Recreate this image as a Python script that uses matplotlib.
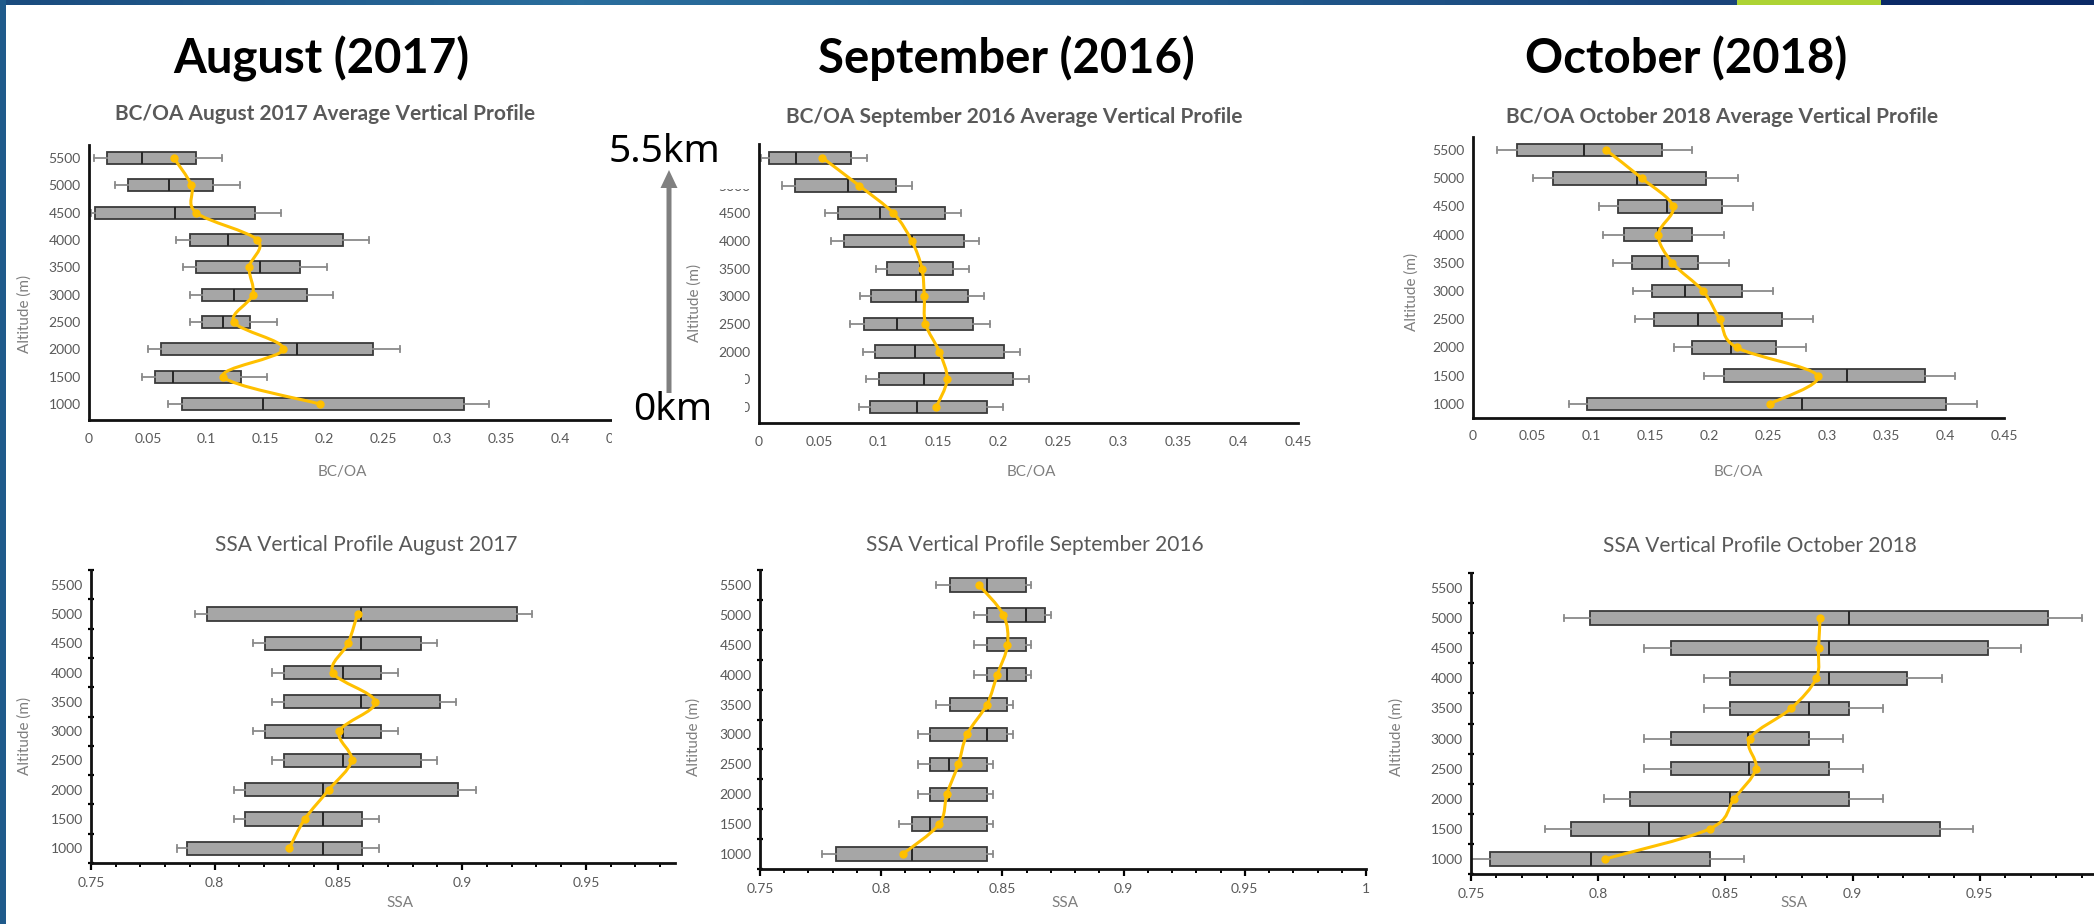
import matplotlib

matplotlib.use("Agg")
import matplotlib.pyplot as plt
import numpy as np
from matplotlib.path import Path
from matplotlib.patches import PathPatch, Rectangle, FancyArrow
from matplotlib.colors import LinearSegmentedColormap

W, H = 2094, 924
plt.rcParams["font.family"] = ["Lato", "DejaVu Sans"]

ALT = [1000, 1500, 2000, 2500, 3000, 3500, 4000, 4500, 5000, 5500]

# --- BC/OA, rows 1000 -> 5500 m ---
aug_bc_wlo = [0.067, 0.045, 0.050, 0.086, 0.086, 0.080, 0.074, 0.002, 0.022, 0.004]
aug_bc_q1 = [0.079, 0.056, 0.061, 0.096, 0.096, 0.091, 0.086, 0.005, 0.033, 0.015]
aug_bc_med = [0.148, 0.071, 0.177, 0.114, 0.123, 0.145, 0.118, 0.073, 0.068, 0.045]
aug_bc_q3 = [0.318, 0.129, 0.241, 0.137, 0.185, 0.179, 0.216, 0.141, 0.105, 0.091]
aug_bc_whi = [0.340, 0.151, 0.264, 0.160, 0.207, 0.202, 0.238, 0.163, 0.128, 0.113]
aug_bc_mean = [0.196, 0.114, 0.165, 0.123, 0.139, 0.136, 0.143, 0.091, 0.087, 0.072]

sep_bc_wlo = [0.0835, 0.089, 0.0866, 0.076, 0.084, 0.0977, 0.0605, 0.055, 0.019, 0.002]
sep_bc_q1 = [0.093, 0.100, 0.0965, 0.0873, 0.0938, 0.107, 0.071, 0.066, 0.030, 0.008]
sep_bc_med = [0.132, 0.138, 0.130, 0.115, 0.131, 0.134, 0.128, 0.1007, 0.0747, 0.031]
sep_bc_q3 = [0.190, 0.212, 0.2045, 0.179, 0.1746, 0.162, 0.171, 0.1555, 0.1145, 0.0766]
sep_bc_whi = [0.2034, 0.2256, 0.218, 0.193, 0.1877, 0.175, 0.1835, 0.169, 0.128, 0.090]
sep_bc_mean = [0.148, 0.157, 0.1505, 0.139, 0.138, 0.136, 0.1275, 0.1122, 0.0835, 0.053]

oct_bc_wlo = [0.0813, 0.1957, 0.170, 0.1377, 0.1357, 0.1188, 0.110, 0.107, 0.0507, 0.020]
oct_bc_q1 = [0.0966, 0.2126, 0.186, 0.153, 0.1518, 0.135, 0.1276, 0.123, 0.0676, 0.037]
oct_bc_med = [0.279, 0.317, 0.2186, 0.191, 0.180, 0.160, 0.157, 0.164, 0.139, 0.0938]
oct_bc_q3 = [0.4006, 0.383, 0.2564, 0.262, 0.228, 0.191, 0.186, 0.2114, 0.1977, 0.160]
oct_bc_whi = [0.4267, 0.4086, 0.2826, 0.2878, 0.2544, 0.217, 0.2126, 0.2375, 0.2242, 0.186]
oct_bc_mean = [0.2516, 0.292, 0.2234, 0.209, 0.195, 0.169, 0.157, 0.1695, 0.143, 0.1127]

# --- SSA, rows 1000 -> 5000 (Aug, Oct) / 5500 (Sep) ---
aug_ssa_wlo = [0.7846, 0.8079, 0.8079, 0.8232, 0.8156, 0.8232, 0.8232, 0.8156, 0.7922]
aug_ssa_q1 = [0.7888, 0.8124, 0.8124, 0.8281, 0.8205, 0.8281, 0.8281, 0.8205, 0.7969]
aug_ssa_med = [0.8436, 0.8436, 0.8436, 0.8517, 0.8517, 0.8591, 0.8517, 0.8591, 0.8591]
aug_ssa_q3 = [0.8594, 0.8594, 0.8982, 0.8833, 0.8672, 0.8910, 0.8672, 0.8833, 0.9220]
aug_ssa_whi = [0.8663, 0.8663, 0.9054, 0.8897, 0.8741, 0.8973, 0.8741, 0.8897, 0.9283]
aug_ssa_mean = [0.8301, 0.8364, 0.8461, 0.8553, 0.8504, 0.8649, 0.8477, 0.8539, 0.8577]

sep_ssa_wlo = [0.7754, 0.8072, 0.8150, 0.8150, 0.8150, 0.8227, 0.8384, 0.8384, 0.8384, 0.8227]
sep_ssa_q1 = [0.7814, 0.8127, 0.8203, 0.8203, 0.8203, 0.8284, 0.8436, 0.8436, 0.8436, 0.8284]
sep_ssa_med = [0.8129, 0.8203, 0.8280, 0.8280, 0.8436, 0.8440, 0.8521, 0.8520, 0.8597, 0.8438]
sep_ssa_q3 = [0.8438, 0.8438, 0.8438, 0.8438, 0.8521, 0.8521, 0.8597, 0.8597, 0.8676, 0.8597]
sep_ssa_whi = [0.8462, 0.8462, 0.8462, 0.8462, 0.8542, 0.8542, 0.8617, 0.8617, 0.8699, 0.8617]
sep_ssa_mean = [0.8089, 0.8239, 0.8271, 0.8318, 0.8354, 0.8436, 0.8479, 0.8521, 0.8504, 0.8403]

oct_ssa_wlo = [0.7500, 0.7789, 0.8024, 0.8180, 0.8180, 0.8415, 0.8415, 0.8180, 0.7865]
oct_ssa_q1 = [0.7576, 0.7892, 0.8125, 0.8285, 0.8285, 0.8518, 0.8518, 0.8285, 0.7968]
oct_ssa_med = [0.7972, 0.8201, 0.8518, 0.8592, 0.8590, 0.8829, 0.8909, 0.8909, 0.8984]
oct_ssa_q3 = [0.8441, 0.9342, 0.8984, 0.8909, 0.8829, 0.8984, 0.9215, 0.9532, 0.9767]
oct_ssa_whi = [0.8574, 0.9474, 0.9120, 0.9041, 0.8963, 0.9120, 0.9353, 0.9662, 0.9901]
oct_ssa_mean = [0.8027, 0.8438, 0.8534, 0.8620, 0.8596, 0.8758, 0.8857, 0.8866, 0.8872]

BC_TICKS = [0, 0.05, 0.1, 0.15, 0.2, 0.25, 0.3, 0.35, 0.4, 0.45]
SSA_TICKS = [0.75, 0.8, 0.85, 0.9, 0.95]

GREY_TXT = "#595959"
LABEL_TXT = "#7f7f7f"
YELLOW = "#ffc000"


def fx(x):
    return x / W


def fy(y):
    return 1 - y / H


def add_ax(l, t, r, b):
    return fig.add_axes([fx(l), fy(b), (r - l) / W, (b - t) / H])


def smooth_path(xs, ys):
    # Excel-style smoothed line: Catmull-Rom through the means, as cubic beziers
    p = np.column_stack([xs, ys]).astype(float)
    n = len(p)
    verts, codes = [p[0]], [Path.MOVETO]
    for i in range(n - 1):
        p0 = p[i - 1] if i > 0 else p[i]
        p3 = p[i + 2] if i + 2 < n else p[i + 1]
        verts += [p[i] + (p[i + 1] - p0) / 6, p[i + 1] - (p3 - p[i]) / 6, p[i + 1]]
        codes += [Path.CURVE4] * 3
    return Path(verts, codes)


def panel(ax, wlo, q1, med, q3, whi, mean, xlim, ylim, ssa):
    pos = np.arange(len(med))
    stats = [dict(whislo=a, q1=b, med=c, q3=d, whishi=e, fliers=[])
             for a, b, c, d, e in zip(wlo, q1, med, q3, whi)]
    ax.bxp(stats, positions=pos, widths=0.45, orientation="horizontal",
           patch_artist=True, showfliers=False, manage_ticks=False, capwidths=0.22,
           boxprops=dict(facecolor="#a6a6a6", edgecolor="#3a3a3a", lw=1.3),
           medianprops=dict(color="#262626", lw=1.4),
           whiskerprops=dict(color="#8a8a8a", lw=1.3),
           capprops=dict(color="#8a8a8a", lw=1.3))
    ax.add_patch(PathPatch(smooth_path(mean, pos), fill=False, edgecolor=YELLOW,
                           lw=2.2, zorder=4, capstyle="round"))
    ax.plot(mean, pos, "o", color=YELLOW, ms=5, zorder=5)
    ax.set_xlim(*xlim)
    ax.set_ylim(*ylim)
    ax.set_yticks(range(len(ALT)))
    ax.set_yticklabels([str(a) for a in ALT])
    for s in ["top", "right"]:
        ax.spines[s].set_visible(False)
    for s in ["left", "bottom"]:
        ax.spines[s].set_linewidth(2.0)
        ax.spines[s].set_color("#111111")
    ax.tick_params(axis="both", labelsize=10, labelcolor=GREY_TXT)
    ax.tick_params(axis="y", length=0, pad=6)
    ax.patch.set_alpha(0)
    if ssa:
        ax.set_xticks(SSA_TICKS)
        ax.set_xticklabels([f"{t:g}" for t in SSA_TICKS])
        ax.set_xticks(np.arange(0.75, xlim[1], 0.01), minor=True)
        ax.set_yticks(np.arange(-0.5, 10, 1.0), minor=True)
        ax.tick_params(axis="x", which="major", length=5, width=1.6, direction="out", pad=5)
        ax.tick_params(axis="x", which="minor", length=3, width=1.4, direction="out")
        ax.tick_params(axis="y", which="minor", length=5, width=1.6, direction="inout")
    else:
        ax.set_xticks(BC_TICKS)
        ax.set_xticklabels([f"{t:g}" for t in BC_TICKS])
        ax.tick_params(axis="x", length=0, pad=9)


fig = plt.figure(figsize=(W / 100, H / 100), dpi=100)
fig.patch.set_facecolor("white")

# slide decoration: top bar + left strip
bar = fig.add_axes([0, fy(5), fx(1737), 5 / H])
cmap = LinearSegmentedColormap.from_list("bar", ["#1a4b7e", "#2a6e9d", "#225c8e", "#1a447a"])
bar.imshow(np.linspace(0, 1, 256)[None, :], aspect="auto", cmap=cmap)
bar.axis("off")
fig.add_artist(Rectangle((fx(1737), fy(5)), fx(144), 5 / H, transform=fig.transFigure,
                         color="#add334", lw=0))
fig.add_artist(Rectangle((fx(1881), fy(5)), fx(213), 5 / H, transform=fig.transFigure,
                         color="#0b2a66", lw=0))
fig.add_artist(Rectangle((0, 0), fx(6), 1, transform=fig.transFigure, color="#1f5a8b", lw=0))

ax1 = add_ax(89, 145, 619, 420)
panel(ax1, aug_bc_wlo, aug_bc_q1, aug_bc_med, aug_bc_q3, aug_bc_whi, aug_bc_mean,
      (0, 0.45), (-0.585, 9.476), False)
ax2 = add_ax(759, 144, 1298, 423)
panel(ax2, sep_bc_wlo, sep_bc_q1, sep_bc_med, sep_bc_q3, sep_bc_whi, sep_bc_mean,
      (0, 0.45), (-0.58, 9.5), False)
ax3 = add_ax(1473, 137, 2004, 418)
panel(ax3, oct_bc_wlo, oct_bc_q1, oct_bc_med, oct_bc_q3, oct_bc_whi, oct_bc_mean,
      (0, 0.45), (-0.5, 9.46), False)
ax4 = add_ax(91, 570, 675, 863)
panel(ax4, aug_ssa_wlo, aug_ssa_q1, aug_ssa_med, aug_ssa_q3, aug_ssa_whi, aug_ssa_mean,
      (0.75, 0.986), (-0.465, 9.475), True)
ax5 = add_ax(760, 570, 1366, 869)
panel(ax5, sep_ssa_wlo, sep_ssa_q1, sep_ssa_med, sep_ssa_q3, sep_ssa_whi, sep_ssa_mean,
      (0.75, 1.0), (-0.44, 9.46), True)
ax5.set_xticks(SSA_TICKS + [1.0])
ax5.set_xticklabels([f"{t:g}" for t in SSA_TICKS] + ["1"])
ax6 = add_ax(1471, 573, 2107, 874)
panel(ax6, oct_ssa_wlo, oct_ssa_q1, oct_ssa_med, oct_ssa_q3, oct_ssa_whi, oct_ssa_mean,
      (0.75, 1.0), (-0.5, 9.45), True)

# headings
for x, s in [(321, "August (2017)"), (1006, "September (2016)"), (1686, "October (2018)")]:
    fig.text(fx(x), fy(73), s, ha="center", va="baseline", fontsize=34,
             fontweight="bold", color="black")
for x, y, s in [(325, 114, "BC/OA August 2017 Average Vertical Profile"),
                (1014, 117, "BC/OA September 2016 Average Vertical Profile"),
                (1722, 117, "BC/OA October 2018 Average Vertical Profile")]:
    fig.text(fx(x), fy(y), s, ha="center", va="center", fontsize=15,
             fontweight="bold", color=GREY_TXT)
for x, y, s in [(366, 545, "SSA Vertical Profile August 2017"),
                (1035, 545, "SSA Vertical Profile September 2016"),
                (1760, 546, "SSA Vertical Profile October 2018")]:
    fig.text(fx(x), fy(y), s, ha="center", va="center", fontsize=15, color=GREY_TXT)

for x, y in [(25, 314), (695, 303), (1412, 292), (25, 736), (694, 737), (1397, 737)]:
    fig.text(fx(x), fy(y), "Altitude (m)", rotation=90, ha="center", va="center",
             fontsize=11, color=LABEL_TXT)
for x in [342, 1031, 1738]:
    fig.text(fx(x), fy(472), "BC/OA", ha="center", va="center", fontsize=11, color=LABEL_TXT)
for x in [400, 1065, 1794]:
    fig.text(fx(x), fy(903), "SSA", ha="center", va="center", fontsize=11, color=LABEL_TXT)

# altitude annotation with white boxes covering parts of the panels
for l, t, r, b in [(600, 128, 751, 189), (612, 372, 745, 446)]:
    fig.add_artist(Rectangle((fx(l), fy(b)), (r - l) / W, (b - t) / H,
                             transform=fig.transFigure, color="white", lw=0, zorder=5))
fig.add_artist(FancyArrow(fx(669), fy(393), 0, (393 - 188) / H, width=5 / W,
                          head_width=17 / W, head_length=18 / H, length_includes_head=False,
                          transform=fig.transFigure, color="#808080", lw=0, zorder=6))
fig.text(fx(664), fy(152), "5.5km", ha="center", va="center", fontsize=28,
         family=["Noto Sans", "DejaVu Sans"], color="black", zorder=7)
fig.text(fx(673), fy(410), "0km", ha="center", va="center", fontsize=28,
         family=["Noto Sans", "DejaVu Sans"], color="black", zorder=7)

fig.savefig("out.png", dpi=100)
